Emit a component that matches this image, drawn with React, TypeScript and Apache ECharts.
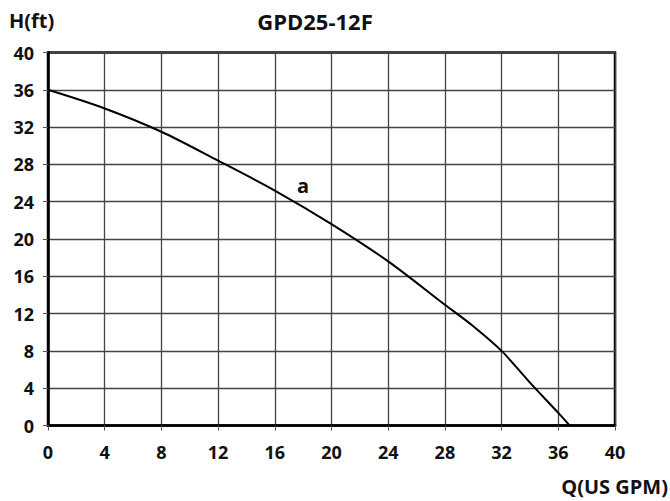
import React, { useEffect, useRef } from "react";
import * as echarts from "echarts";

const flowQ = [0, 4, 8, 12, 16, 20, 24, 28, 30, 32, 34, 36, 36.8];
const headH = [36, 34, 31.5, 28.4, 25.2, 21.6, 17.6, 12.95, 10.65, 8.0, 4.6, 1.35, 0];
const curveLabel = { name: "a", q: 18, h: 25.7 };
const titleText = "GPD25-12F";
const yName = "H(ft)";
const xName = "Q(US GPM)";

const FONT = "'Open Sans', 'Noto Sans', sans-serif";

export default function App() {
  const ref = useRef<HTMLDivElement>(null);
  useEffect(() => {
    if (!ref.current) return;
    const chart = echarts.init(ref.current, null, { renderer: "svg" });
    const data = flowQ.map((q, i) => [q, headH[i]]);
    chart.setOption({
      animation: false,
      backgroundColor: "#fff",
      grid: {
        left: 48,
        right: 55,
        top: 52.5,
        bottom: 75.5,
        show: true,
        borderColor: "#000",
        borderWidth: 2.5,
      },
      graphic: [
        {
          type: "text",
          x: 9,
          y: 20,
          style: {
            text: yName,
            font: `bold 20px ${FONT}`,
            fill: "#111",
            align: "left",
            verticalAlign: "middle",
          },
        },
        {
          type: "text",
          x: 315,
          y: 21,
          style: {
            text: titleText,
            font: `bold 22px ${FONT}`,
            fill: "#111",
            align: "center",
            verticalAlign: "middle",
          },
        },
        {
          type: "text",
          x: 668,
          y: 486,
          style: {
            text: xName,
            font: `bold 20px ${FONT}`,
            fill: "#111",
            align: "right",
            verticalAlign: "middle",
          },
        },
      ],
      xAxis: {
        type: "value",
        min: 0,
        max: 40,
        interval: 4,
        axisLine: { show: true, lineStyle: { color: "#000", width: 2.5 } },
        axisTick: { show: true, length: 5, lineStyle: { color: "#555", width: 1 } },
        axisLabel: {
          margin: 17,
          color: "#111",
          fontSize: 18,
          fontWeight: "bold",
          fontFamily: FONT,
        },
        splitLine: { show: true, lineStyle: { color: "#444", width: 1.3 } },
      },
      yAxis: {
        type: "value",
        min: 0,
        max: 40,
        interval: 4,
        axisLine: { show: true, lineStyle: { color: "#000", width: 2.5 } },
        axisTick: { show: true, length: 5, lineStyle: { color: "#555", width: 1 } },
        axisLabel: {
          margin: 14,
          color: "#111",
          fontSize: 18,
          fontWeight: "bold",
          fontFamily: FONT,
        },
        splitLine: { show: true, lineStyle: { color: "#444", width: 1.3 } },
      },
      series: [
        {
          type: "line",
          data,
          smooth: 0.3,
          symbol: "none",
          lineStyle: { color: "#000", width: 2 },
          markPoint: {
            symbol: "circle",
            symbolSize: 0,
            data: [
              {
                coord: [curveLabel.q, curveLabel.h],
                value: curveLabel.name,
                label: {
                  show: true,
                  formatter: curveLabel.name,
                  position: "inside",
                  color: "#111",
                  fontSize: 20,
                  fontWeight: "bold",
                  fontFamily: FONT,
                },
              },
            ],
          },
        },
      ],
    });
    return () => chart.dispose();
  }, []);
  return <div ref={ref} style={{ width: 670, height: 501, position: "absolute", left: 0, top: 0 }} />;
}
